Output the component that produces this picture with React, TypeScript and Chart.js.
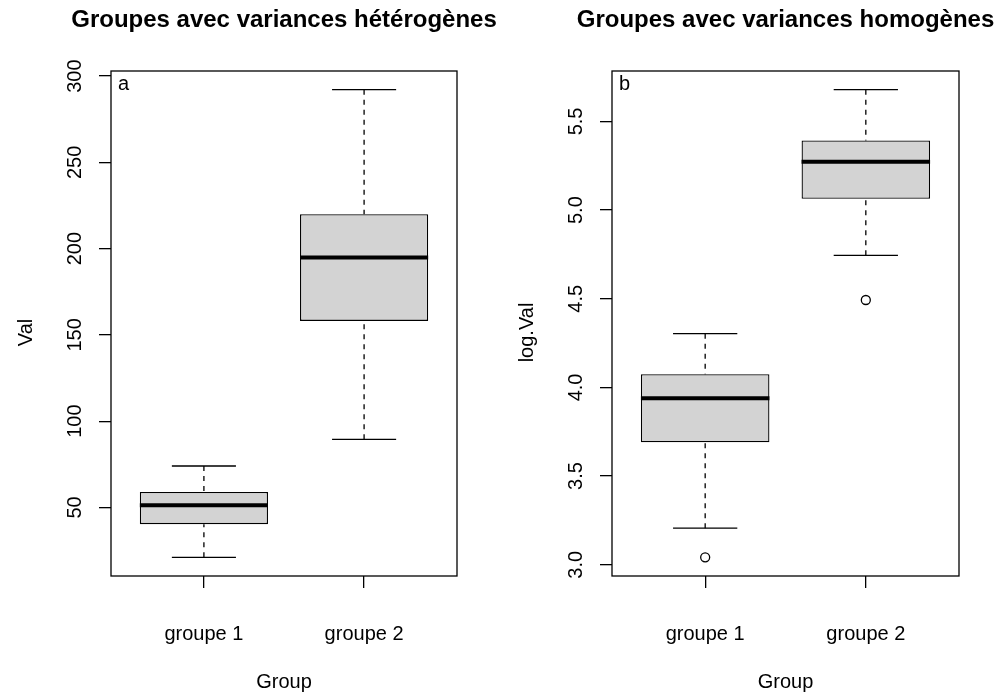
import { useEffect, useRef } from 'react';
import { Chart, registerables } from 'chart.js';

Chart.register(...registerables);

const FONT = '"Liberation Sans", Arial, Helvetica, sans-serif';

// Groups on the x axis (positions 1 and 2)
const GROUPS = ['groupe 1', 'groupe 2'];
const GROUP_POS = [1, 2];

// Raw values: five-number summaries per group
const VAL_LOWER = [21.1, 89.5];
const VAL_Q1 = [40.3, 158.1];
const VAL_MEDIAN = [51.3, 194.8];
const VAL_Q3 = [59.0, 219.9];
const VAL_UPPER = [74.0, 292.1];
const VAL_OUTLIERS: number[][] = [[], []];
const VAL_TICKS = [50, 100, 150, 200, 250, 300];

// Log-transformed values
const LOG_LOWER = [3.206, 4.745];
const LOG_Q1 = [3.691, 5.064];
const LOG_MEDIAN = [3.939, 5.273];
const LOG_Q3 = [4.074, 5.393];
const LOG_UPPER = [4.303, 5.679];
const LOG_OUTLIERS: number[][] = [[3.042], [4.493]];
const LOG_TICKS = [3.0, 3.5, 4.0, 4.5, 5.0, 5.5];

type PanelProps = {
  title: string;
  letter: string;
  yLabel: string;
  lower: number[];
  q1: number[];
  median: number[];
  q3: number[];
  upper: number[];
  outliers: number[][];
  yTicks: number[];
  digits: number;
  areaLeft: number;
  areaRight: number;
  tickPad: number;
  yTitleX: number;
};

const CANVAS_W = 500;
const CANVAS_H = 694;

function BoxPanel(p: PanelProps) {
  const ref = useRef<HTMLCanvasElement>(null);

  useEffect(() => {
    if (!ref.current) return;
    const n = GROUPS.length;
    const allY = [...p.lower, ...p.upper, ...p.outliers.flat()];
    const lo = Math.min(...allY);
    const hi = Math.max(...allY);
    const ext = (hi - lo) * 0.04;
    const xExt = n * 0.04;

    const boxPlugin = {
      id: 'rBoxDecor',
      afterDatasetsDraw(chart: any) {
        const { ctx, chartArea: a } = chart;
        const x = chart.scales.x;
        const y = chart.scales.y;
        ctx.save();
        ctx.strokeStyle = '#000';
        ctx.lineCap = 'butt';
        GROUP_POS.forEach((pos, i) => {
          const cx = x.getPixelForValue(pos);
          // dashed whiskers
          ctx.lineWidth = 1.3;
          ctx.setLineDash([5, 5]);
          ctx.beginPath();
          ctx.moveTo(cx, y.getPixelForValue(p.upper[i]));
          ctx.lineTo(cx, y.getPixelForValue(p.q3[i]));
          ctx.moveTo(cx, y.getPixelForValue(p.lower[i]));
          ctx.lineTo(cx, y.getPixelForValue(p.q1[i]));
          ctx.stroke();
          ctx.setLineDash([]);
          // whisker caps
          const c0 = x.getPixelForValue(pos - 0.2);
          const c1 = x.getPixelForValue(pos + 0.2);
          ctx.beginPath();
          [p.upper[i], p.lower[i]].forEach((v) => {
            const py = y.getPixelForValue(v);
            ctx.moveTo(c0, py);
            ctx.lineTo(c1, py);
          });
          ctx.stroke();
          // median
          const m = y.getPixelForValue(p.median[i]);
          ctx.lineWidth = 4;
          ctx.beginPath();
          ctx.moveTo(x.getPixelForValue(pos - 0.4), m);
          ctx.lineTo(x.getPixelForValue(pos + 0.4), m);
          ctx.stroke();
        });
        // frame around the plot region
        ctx.lineWidth = 1.3;
        ctx.strokeRect(a.left, a.top, a.right - a.left, a.bottom - a.top);

        // main title
        ctx.fillStyle = '#000';
        ctx.font = `bold 24px ${FONT}`;
        ctx.textAlign = 'center';
        ctx.textBaseline = 'alphabetic';
        ctx.fillText(p.title, (a.left + a.right) / 2, 27);

        // panel letter
        ctx.font = `20px ${FONT}`;
        ctx.textAlign = 'left';
        ctx.fillText(p.letter, a.left + 7, 90);

        // y axis title
        ctx.translate(p.yTitleX, (a.top + a.bottom) / 2 + 9);
        ctx.rotate(-Math.PI / 2);
        ctx.textAlign = 'center';
        ctx.fillText(p.yLabel, 0, 0);
        ctx.restore();
      },
    };

    const chart = new Chart(ref.current, {
      type: 'bar',
      data: {
        datasets: [
          {
            type: 'bar',
            data: GROUP_POS.map((pos, i) => ({ x: pos, y: [p.q1[i], p.q3[i]] })) as any,
            backgroundColor: '#D3D3D3',
            borderColor: '#000',
            borderWidth: 1.3,
            borderSkipped: false,
            categoryPercentage: 1,
            barPercentage: 0.8,
          },
          {
            type: 'scatter',
            data: GROUP_POS.flatMap((pos, i) => p.outliers[i].map((v) => ({ x: pos, y: v }))),
            pointStyle: 'circle',
            pointRadius: 4.5,
            pointBorderWidth: 1.3,
            borderColor: '#000',
            backgroundColor: 'rgba(0,0,0,0)',
          } as any,
        ],
      },
      options: {
        responsive: false,
        devicePixelRatio: 1,
        animation: false,
        events: [],
        layout: { padding: { top: 71, right: CANVAS_W - p.areaRight, bottom: 0, left: 0 } },
        plugins: { legend: { display: false }, tooltip: { enabled: false } },
        scales: {
          x: {
            type: 'linear',
            min: 0.5 - xExt,
            max: n + 0.5 + xExt,
            offset: false,
            afterBuildTicks: (s: any) => {
              s.ticks = GROUP_POS.map((v) => ({ value: v }));
            },
            afterFit: (s: any) => {
              s.height = CANVAS_H - 576;
            },
            ticks: {
              autoSkip: false,
              maxRotation: 0,
              padding: 34,
              color: '#000',
              font: { size: 20, family: FONT },
              callback: (_v: any, idx: number) => GROUPS[idx],
            },
            grid: {
              display: true,
              drawOnChartArea: false,
              drawTicks: true,
              tickLength: 12,
              color: '#000',
              lineWidth: 1.3,
              offset: false,
            },
            border: { display: false },
            title: {
              display: true,
              text: 'Group',
              color: '#000',
              font: { size: 20, family: FONT },
              padding: { top: 0, bottom: 0 },
            },
          },
          y: {
            type: 'linear',
            min: lo - ext,
            max: hi + ext,
            afterBuildTicks: (s: any) => {
              s.ticks = p.yTicks.map((v) => ({ value: v }));
            },
            afterFit: (s: any) => {
              s.width = p.areaLeft;
            },
            ticks: {
              autoSkip: false,
              minRotation: 90,
              maxRotation: 90,
              crossAlign: 'center',
              padding: p.tickPad,
              color: '#000',
              font: { size: 20, family: FONT },
              callback: (v: any) => Number(v).toFixed(p.digits),
            },
            grid: {
              display: true,
              drawOnChartArea: false,
              drawTicks: true,
              tickLength: 12,
              color: '#000',
              lineWidth: 1.3,
            },
            border: { display: false },
          },
        },
      } as any,
      plugins: [boxPlugin],
    });
    return () => chart.destroy();
  }, []);

  return <canvas ref={ref} width={CANVAS_W} height={CANVAS_H} style={{ display: 'block' }} />;
}

export default function App() {
  return (
    <div style={{ position: 'absolute', left: 0, top: 0, width: 1000, height: 694, background: '#fff', overflow: 'hidden' }}>
      <div style={{ position: 'absolute', left: 0, top: 0 }}>
        <BoxPanel
          title="Groupes avec variances hétérogènes"
          letter="a"
          yLabel="Val"
          lower={VAL_LOWER}
          q1={VAL_Q1}
          median={VAL_MEDIAN}
          q3={VAL_Q3}
          upper={VAL_UPPER}
          outliers={VAL_OUTLIERS}
          yTicks={VAL_TICKS}
          digits={0}
          areaLeft={111}
          areaRight={457}
          tickPad={7}
          yTitleX={32}
        />
      </div>
      <div style={{ position: 'absolute', left: 500, top: 0 }}>
        <BoxPanel
          title="Groupes avec variances homogènes"
          letter="b"
          yLabel="log.Val"
          lower={LOG_LOWER}
          q1={LOG_Q1}
          median={LOG_MEDIAN}
          q3={LOG_Q3}
          upper={LOG_UPPER}
          outliers={LOG_OUTLIERS}
          yTicks={LOG_TICKS}
          digits={1}
          areaLeft={112}
          areaRight={459}
          tickPad={10}
          yTitleX={33}
        />
      </div>
    </div>
  );
}
